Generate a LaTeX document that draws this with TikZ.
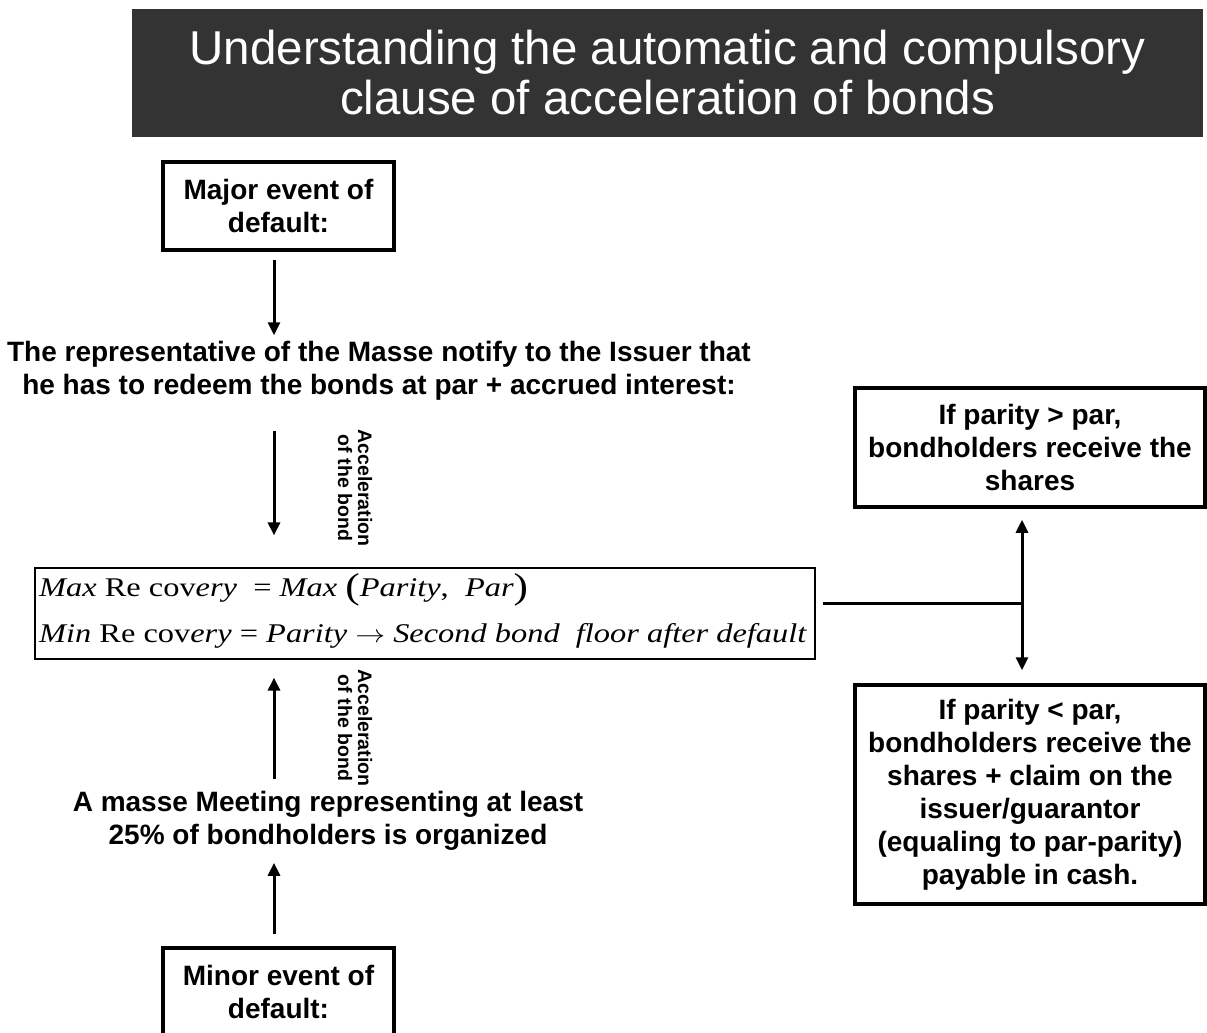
\documentclass[tikz,border=0pt]{standalone}
\usepackage{fontspec}
\setmainfont{Liberation Sans}
\newfontfamily\tnr{Liberation Serif}
\usetikzlibrary{arrows.meta}
\newcommand{\bigparen}[1]{\raisebox{-2pt}{\fontsize{36}{36}\selectfont #1}}
\begin{document}
\begin{tikzpicture}[x=1pt,y=-1pt,
  box/.style={draw=black,line width=3.5pt,align=center,inner sep=0pt,font=\fontsize{28}{33}\selectfont\bfseries},
  plain/.style={align=center,inner sep=0pt,font=\fontsize{28}{33}\selectfont\bfseries},
  arr/.style={line width=3pt,-{Triangle[length=13pt,width=12pt]}},
  darr/.style={line width=3pt,{Triangle[length=13pt,width=12pt]}-{Triangle[length=13pt,width=12pt]}},
  lbl/.style={rotate=-90,align=center,inner sep=0pt,font=\fontsize{19.5}{20}\selectfont\bfseries},
  fml/.style={anchor=west,inner sep=0pt,font=\tnr\fontsize{27}{30}\selectfont}]
\useasboundingbox (0,0) rectangle (1207,1033);
\clip (0,0) rectangle (1207,1033);
\fill[white] (0,0) rectangle (1207,1033);
% title
\node[fill=black!80,minimum width=1071pt,minimum height=128pt,inner sep=0pt,text=white,align=center,
  font=\fontsize{47.5}{50}\selectfont] (title) at (667.5,73) {Understanding the automatic and compulsory\\clause of acceleration of bonds};
% boxes
\node[box,minimum width=231pt,minimum height=88pt] (major) at (278.5,206) {Major event of\\default:};
\node[plain] (notify) at (379,371) {The representative of the Masse notify to the Issuer that\\he has to redeem the bonds at par + accrued interest:};
\node[draw=black,line width=1.2pt,minimum width=780pt,minimum height=91pt,inner sep=0pt] (formula) at (425,613.5) {};
\node[fml] (f1) at (39,590)
  {\scalebox{1.2}[1]{\textit{Max} Re cov\textit{ery}~ = \textit{Max} \bigparen{(}\textit{Parity},~ \textit{Par}\bigparen{)}}};
\node[fml] (f2) at (39,636)
  {\scalebox{1.2}[1]{\textit{Min} Re cov\textit{ery} = \textit{Parity} $\rightarrow$ \textit{Second bond~ floor after default}}};
\node[box,minimum width=350pt,minimum height=119pt] (pup) at (1030,447.5) {If parity > par,\\bondholders receive the\\shares};
\node[box,minimum width=350pt,minimum height=219pt] (pdown) at (1030,794.5) {If parity < par,\\bondholders receive the\\shares + claim on the\\issuer/guarantor\\(equaling to par-parity)\\payable in cash.};
\node[plain] (masse) at (328,821) {A masse Meeting representing at least\\25\% of bondholders is organized};
\node[box,minimum width=231pt,minimum height=88pt] (minor) at (278.5,992) {Minor event of\\default:};
% labels
\node[lbl] (l1) at (355,488) {Acceleration\\of the bond};
\node[lbl] (l2) at (355,728) {Acceleration\\of the bond};
% connectors
\coordinate (ax) at (274,0);
\coordinate (bx) at (1022,0);
\draw[arr,shorten <=8pt,shorten >=6pt] (major.south -| ax) -- (notify.north -| ax);
\draw[arr,shorten <=30pt,shorten >=32pt] (notify.south -| ax) -- (formula.north -| ax);
\draw[arr,shorten <=12pt,shorten >=18pt] (masse.north -| ax) -- (formula.south -| ax);
\draw[arr,shorten <=12pt,shorten >=12pt] (minor.north -| ax) -- (masse.south -| ax);
\coordinate (j) at (1022,603);
\draw[line width=3pt] ([xshift=7pt]formula.east |- j) -- (j);
\draw[darr,shorten <=11pt,shorten >=13pt] (pup.south -| bx) -- (pdown.north -| bx);
\end{tikzpicture}
\end{document}
